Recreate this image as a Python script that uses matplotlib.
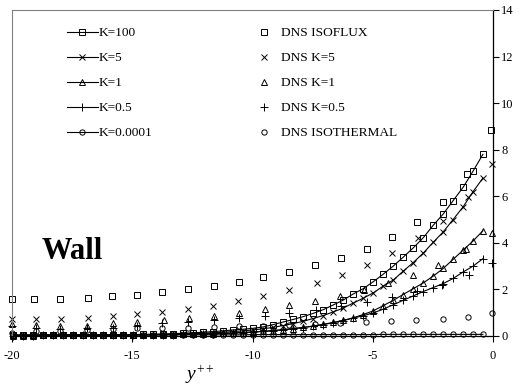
import matplotlib
matplotlib.use("Agg")
import matplotlib.pyplot as plt

plt.rcParams["font.family"] = ["Liberation Serif", "DejaVu Serif"]
plt.rcParams["mathtext.fontset"] = "custom"
plt.rcParams["mathtext.it"] = "Liberation Serif:italic"
plt.rcParams["mathtext.rm"] = "Liberation Serif"
plt.rcParams["axes.unicode_minus"] = False

# model grid (wall distance)
x_model = [-19.96, -19.54, -19.13, -18.71, -18.30, -17.88, -17.46, -17.05, -16.63, -16.22,
           -15.80, -15.38, -14.97, -14.55, -14.14, -13.72, -13.30, -12.89, -12.47, -12.06,
           -11.64, -11.22, -10.81, -10.39, -9.98, -9.56, -9.14, -8.73, -8.31, -7.90,
           -7.48, -7.06, -6.65, -6.23, -5.82, -5.40, -4.98, -4.57, -4.15, -3.74,
           -3.32, -2.90, -2.49, -2.07, -1.66, -1.24, -0.83, -0.42]

k100 = [0.03, 0.03, 0.03, 0.03, 0.04, 0.04, 0.04, 0.04, 0.05, 0.05,
        0.05, 0.06, 0.06, 0.07, 0.08, 0.09, 0.10, 0.12, 0.14, 0.16,
        0.19, 0.22, 0.26, 0.29, 0.33, 0.39, 0.49, 0.60, 0.71, 0.83,
        0.97, 1.13, 1.33, 1.54, 1.80, 2.03, 2.33, 2.65, 3.00, 3.38,
        3.78, 4.22, 4.75, 5.24, 5.81, 6.39, 7.08, 7.80]
k5 = [0.03, 0.03, 0.03, 0.03, 0.03, 0.03, 0.04, 0.04, 0.04, 0.04,
      0.05, 0.05, 0.05, 0.06, 0.06, 0.07, 0.08, 0.09, 0.10, 0.12,
      0.14, 0.16, 0.19, 0.22, 0.26, 0.31, 0.37, 0.45, 0.53, 0.63,
      0.75, 0.88, 1.03, 1.20, 1.41, 1.62, 1.85, 2.14, 2.40, 2.78,
      3.15, 3.56, 4.02, 4.47, 5.00, 5.55, 6.20, 6.78]
k1 = [0.02, 0.02, 0.02, 0.03, 0.03, 0.03, 0.03, 0.03, 0.04, 0.04,
      0.04, 0.04, 0.05, 0.05, 0.05, 0.06, 0.06, 0.07, 0.08, 0.09,
      0.10, 0.11, 0.13, 0.15, 0.17, 0.20, 0.23, 0.27, 0.32, 0.37,
      0.43, 0.50, 0.58, 0.67, 0.78, 0.92, 1.08, 1.30, 1.53, 1.78,
      2.03, 2.28, 2.57, 2.90, 3.29, 3.69, 4.08, 4.52]
k05 = [0.02, 0.02, 0.02, 0.03, 0.03, 0.03, 0.03, 0.03, 0.04, 0.04,
       0.04, 0.04, 0.05, 0.05, 0.05, 0.06, 0.06, 0.07, 0.08, 0.09,
       0.10, 0.11, 0.13, 0.15, 0.17, 0.20, 0.23, 0.27, 0.31, 0.36,
       0.42, 0.49, 0.57, 0.66, 0.77, 0.87, 0.99, 1.15, 1.34, 1.53,
       1.72, 1.91, 2.08, 2.25, 2.47, 2.75, 3.00, 3.32]
k00001 = [0.05, 0.05, 0.05, 0.05, 0.05, 0.05, 0.05, 0.05, 0.05, 0.05,
          0.05, 0.05, 0.05, 0.05, 0.05, 0.05, 0.05, 0.05, 0.05, 0.05,
          0.05, 0.05, 0.05, 0.05, 0.06, 0.06, 0.06, 0.06, 0.06, 0.06,
          0.06, 0.06, 0.06, 0.06, 0.06, 0.06, 0.06, 0.07, 0.07, 0.07,
          0.07, 0.07, 0.07, 0.07, 0.07, 0.07, 0.07, 0.07]

# DNS data
x_iso = [-20.0, -19.1, -18.0, -16.85, -15.85, -14.8, -13.75, -12.67, -11.6, -10.55,
         -9.55, -8.5, -7.4, -6.33, -5.25, -4.19, -3.17, -2.07, -1.07, -0.08]
dns_isoflux = [1.60, 1.60, 1.60, 1.65, 1.70, 1.77, 1.89, 2.02, 2.16, 2.30,
               2.52, 2.76, 3.03, 3.35, 3.75, 4.27, 4.88, 5.77, 6.97, 8.84]
x_k5 = [-20.0, -19.0, -17.96, -16.85, -15.8, -14.8, -13.78, -12.7, -11.63, -10.6,
        -9.55, -8.47, -7.33, -6.29, -5.25, -4.19, -3.13, -2.09, -1.05, -0.05]
dns_k5 = [0.74, 0.74, 0.74, 0.77, 0.84, 0.94, 1.01, 1.18, 1.30, 1.52,
          1.73, 1.96, 2.28, 2.63, 3.06, 3.58, 4.20, 4.95, 5.96, 7.40]
x_k1 = [-20.0, -19.0, -18.0, -16.9, -15.8, -14.8, -13.7, -12.65, -11.6, -10.55,
        -9.5, -8.47, -7.42, -6.36, -5.38, -4.35, -3.34, -2.27, -1.12, -0.05]
dns_k1 = [0.52, 0.48, 0.45, 0.45, 0.55, 0.60, 0.68, 0.78, 0.88, 0.98,
          1.15, 1.32, 1.49, 1.73, 1.98, 2.28, 2.64, 3.07, 3.72, 4.44]
x_k05 = [-20.0, -19.0, -18.0, -16.9, -15.8, -14.8, -13.75, -12.7, -11.6, -10.55,
         -9.5, -8.47, -7.36, -6.3, -5.25, -4.19, -3.15, -2.1, -1.0, -0.05]
dns_k05 = [0.43, 0.33, 0.30, 0.33, 0.36, 0.43, 0.55, 0.62, 0.69, 0.77,
           0.84, 0.98, 1.10, 1.30, 1.44, 1.66, 1.95, 2.20, 2.60, 3.12]
x_ith = [-20.0, -19.0, -18.0, -16.9, -15.8, -14.8, -13.75, -12.7, -11.6, -10.55,
         -9.55, -8.5, -7.4, -6.36, -5.28, -4.24, -3.2, -2.07, -1.03, -0.05]
dns_isothermal = [0.15, 0.20, 0.22, 0.26, 0.30, 0.33, 0.33, 0.36, 0.38, 0.42,
                  0.43, 0.47, 0.50, 0.55, 0.60, 0.65, 0.69, 0.74, 0.81, 1.00]

fig = plt.figure(figsize=(5.2, 3.87), dpi=100)
ax = fig.add_axes([12 / 520, 51 / 387, 481 / 520, 326 / 387])

mk = dict(mfc="none", mec="black", mew=0.7, color="black", lw=0.8, clip_on=False)
model = [
    (k100, "s", 3.8, "K=100"),
    (k5, "x", 5.0, "K=5"),
    (k1, "^", 4.0, "K=1"),
    (k05, "+", 6.0, "K=0.5"),
    (k00001, "o", 3.8, "K=0.0001"),
]
line_handles = []
for y, m, ms, lab in model:
    h, = ax.plot(x_model, y, marker=m, ms=ms, label=lab, **mk)
    line_handles.append(h)

dns = [
    (x_iso, dns_isoflux, "s", 3.8, "DNS ISOFLUX"),
    (x_k5, dns_k5, "x", 5.0, "DNS K=5"),
    (x_k1, dns_k1, "^", 4.0, "DNS K=1"),
    (x_k05, dns_k05, "+", 6.0, "DNS K=0.5"),
    (x_ith, dns_isothermal, "o", 3.8, "DNS ISOTHERMAL"),
]
dns_handles = []
for xs, y, m, ms, lab in dns:
    h, = ax.plot(xs, y, ls="none", marker=m, ms=ms, mfc="none", mec="black",
                 mew=0.7, label=lab, clip_on=False)
    dns_handles.append(h)

ax.set_xlim(-20, 0)
ax.set_ylim(0, 14)
ax.set_xticks([-20, -15, -10, -5, 0])
ax.set_yticks([0, 2, 4, 6, 8, 10, 12, 14])
ax.yaxis.tick_right()
ax.tick_params(axis="y", direction="out", length=4, width=0.8, pad=2, labelsize=9)
ax.tick_params(axis="x", direction="out", length=4, width=0.8, pad=6, labelsize=9)
for side in ["top", "left"]:
    ax.spines[side].set_color("#808080")
    ax.spines[side].set_linewidth(0.8)
for side in ["right", "bottom"]:
    ax.spines[side].set_color("black")
    ax.spines[side].set_linewidth(0.9)

ax.set_xlabel(r"$y^{++}$", fontsize=14)
ax.xaxis.set_label_coords(0.39, -0.085)

ax.text(-18.75, 3.29, "Wall", fontsize=22, fontweight="bold", va="baseline")

leg_kw = dict(loc="upper left", frameon=False, fontsize=9.6, handlelength=2.3,
              handletextpad=0.1, labelspacing=0.95, borderpad=0, borderaxespad=0)
leg1 = ax.legend(handles=line_handles, bbox_to_anchor=(0.114, 0.948), **leg_kw)
ax.add_artist(leg1)
ax.legend(handles=dns_handles, bbox_to_anchor=(0.492, 0.948), **leg_kw)

fig.savefig("out.png", dpi=100)
